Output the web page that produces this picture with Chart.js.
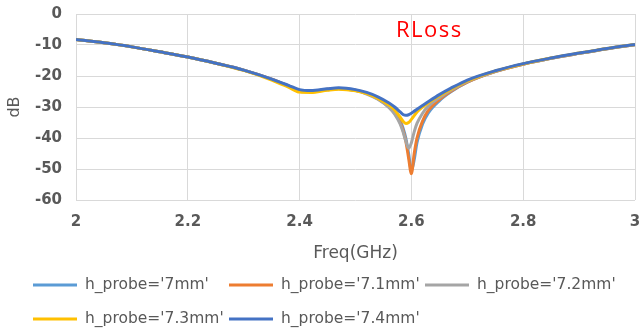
<!DOCTYPE html>
<html><head><meta charset="utf-8">
<script src="https://cdn.jsdelivr.net/npm/chart.js@4/dist/chart.umd.min.js"></script>
<style>html,body{margin:0;padding:0;background:#fff}#wrap{width:641px;height:331px;position:relative}</style>
</head><body><div id="wrap"><canvas id="c" width="641" height="331"></canvas></div>
<script>
const freq = [2,2.05,2.1,2.15,2.2,2.25,2.3,2.35,2.38,2.4,2.42,2.45,2.47,2.5,2.52,2.54,2.56,2.57,2.58,2.585,2.59,2.595,2.6,2.605,2.61,2.62,2.63,2.65,2.67,2.7,2.75,2.8,2.85,2.9,2.95,3];
const seriesNames = ["h_probe='7mm'","h_probe='7.1mm'","h_probe='7.2mm'","h_probe='7.3mm'","h_probe='7.4mm'"];
const s70 = [-8.2,-9.3,-10.6,-12.2,-13.9,-15.9,-18.1,-21.0,-23.2,-24.8,-25.0,-24.3,-24.0,-24.6,-25.6,-27.3,-30.0,-31.8,-34.5,-36.8,-40.0,-45.0,-50.5,-47.0,-41.5,-35.5,-32.0,-28.0,-25.2,-22.0,-18.6,-16.2,-14.3,-12.7,-11.2,-9.9];
const s71 = [-8.2,-9.3,-10.6,-12.2,-13.9,-15.9,-18.1,-21.0,-23.2,-24.8,-25.0,-24.3,-24.0,-24.6,-25.6,-27.3,-30.0,-32.0,-35.0,-37.5,-41.0,-46.5,-51.5,-45.0,-40.0,-34.5,-31.2,-27.6,-25.0,-22.0,-18.6,-16.2,-14.3,-12.7,-11.2,-9.9];
const s72 = [-8.2,-9.3,-10.6,-12.2,-13.9,-15.9,-18.1,-21.1,-23.3,-25.0,-25.1,-24.4,-24.1,-24.7,-25.8,-27.5,-30.2,-32.3,-35.5,-38.0,-41.0,-43.3,-41.5,-38.0,-35.3,-32.0,-29.8,-27.0,-24.7,-21.8,-18.5,-16.1,-14.3,-12.7,-11.2,-9.9];
const s73 = [-8.2,-9.3,-10.6,-12.2,-13.9,-15.9,-18.2,-21.3,-23.6,-25.2,-25.3,-24.6,-24.3,-24.8,-25.7,-27.2,-29.4,-31.0,-33.3,-34.6,-35.3,-35.0,-34.0,-32.8,-31.6,-30.0,-28.7,-26.4,-24.3,-21.6,-18.4,-16.1,-14.2,-12.6,-11.1,-9.8];
const s74 = [-8.2,-9.3,-10.6,-12.2,-13.9,-15.9,-18.1,-21.0,-23.0,-24.4,-24.7,-24.1,-23.8,-24.4,-25.3,-26.7,-28.7,-30.0,-31.6,-32.4,-32.7,-32.5,-32.0,-31.4,-30.7,-29.5,-28.3,-26.0,-24.0,-21.3,-18.3,-16.0,-14.2,-12.6,-11.1,-9.8];
const colors = ['#5b9bd5','#ed7d31','#a5a5a5','#ffc000','#4472c4'];
const yTicks = [0,-10,-20,-30,-40,-50,-60];
const xTicks = [2,2.2,2.4,2.6,2.8,3];
const chartTitle = 'RLoss';

const all = [s70,s71,s72,s73,s74];
const datasets = all.map((s,i)=>({
  label: seriesNames[i],
  data: freq.map((f,j)=>({x:f,y:s[j]})),
  borderColor: colors[i], backgroundColor: colors[i],
  borderWidth: 3, pointRadius: 0, cubicInterpolationMode:'monotone',
  order: 5-i
}));

const overlayPlugin = {
  id:'overlay',
  afterDraw(chart){
    const c=chart.ctx; c.save();
    c.font='22px "Open Sans", sans-serif';
    c.letterSpacing='1.5px';
    c.fillStyle='#ff0000'; c.textAlign='left'; c.textBaseline='middle';
    c.fillText(chartTitle,396,31);
    c.letterSpacing='0px';
    c.font='15.5px "DejaVu Sans", sans-serif';
    c.fillStyle='#595959';
    const colX=[33,229,425], rowY=[285,319];
    chart.data.datasets.forEach((ds,i)=>{
      const x=colX[i%3], y=rowY[Math.floor(i/3)];
      c.strokeStyle=ds.borderColor; c.lineWidth=3;
      c.beginPath(); c.moveTo(x,y); c.lineTo(x+44,y); c.stroke();
      c.fillText(ds.label,x+52,y);
    });
    c.restore();
  }
};

new Chart(document.getElementById('c'),{
  type:'line',
  data:{datasets},
  plugins:[overlayPlugin],
  options:{
    responsive:false, animation:false,
    layout:{padding:{left:5,right:6,top:14,bottom:67}},
    plugins:{ legend:{display:false}, tooltip:{enabled:false} },
    scales:{
      x:{type:'linear',min:2,max:3,
        afterBuildTicks(ax){ax.ticks=xTicks.map(v=>({value:v}));},
        afterFit(ax){ax.height=64;ax.paddingLeft=0;ax.paddingRight=0;},
        ticks:{color:'#595959',font:{size:15,weight:'bold',family:'"DejaVu Sans",sans-serif'},padding:13,maxRotation:0,callback:v=>String(v)},
        grid:{color:'#d9d9d9',lineWidth:1,drawTicks:false},border:{display:false},
        title:{display:true,text:'Freq(GHz)',color:'#595959',font:{size:17,family:'"DejaVu Sans",sans-serif'},padding:{top:4,bottom:0}}
      },
      y:{min:-60,max:0,
        afterBuildTicks(ax){ax.ticks=yTicks.map(v=>({value:v}));},
        afterFit(ax){ax.width=71;ax.paddingTop=0;ax.paddingBottom=0;},
        ticks:{color:'#595959',font:{size:15,weight:'bold',family:'"DejaVu Sans",sans-serif'},padding:14},
        grid:{color:'#d9d9d9',lineWidth:1,drawTicks:false},border:{display:false},
        title:{display:true,text:'dB',color:'#595959',font:{size:16,family:'"DejaVu Sans",sans-serif'},padding:{top:0,bottom:0}}
      }
    }
  }
});
</script></body></html>
